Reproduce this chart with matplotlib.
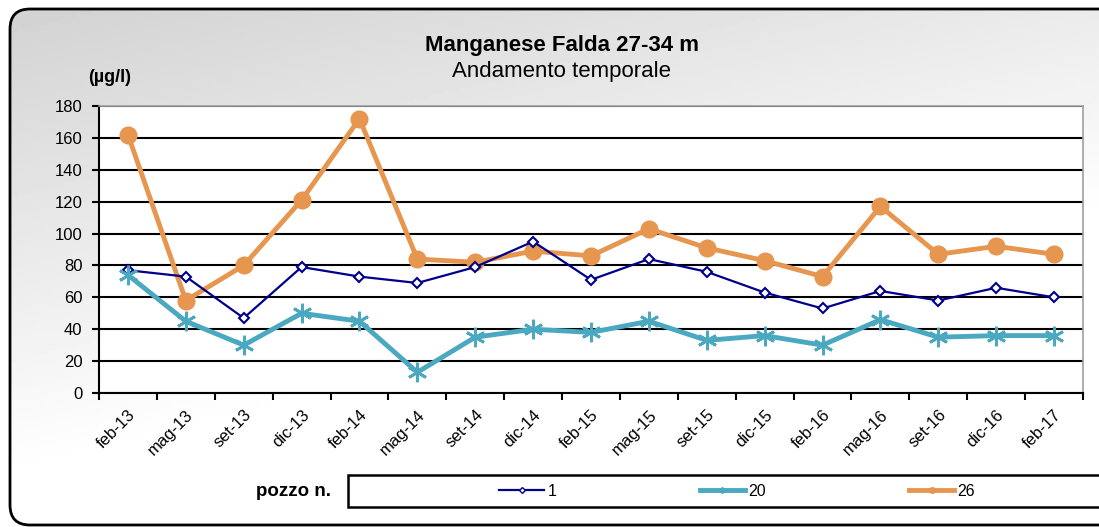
import numpy as np
import matplotlib.pyplot as plt
from matplotlib.patches import FancyBboxPatch, Rectangle
from matplotlib.lines import Line2D

plt.rcParams["font.family"] = ["Liberation Sans", "DejaVu Sans"]

# data
dates = ["feb-13", "mag-13", "set-13", "dic-13", "feb-14", "mag-14", "set-14", "dic-14",
         "feb-15", "mag-15", "set-15", "dic-15", "feb-16", "mag-16", "set-16", "dic-16", "feb-17"]
pozzo_1 = [77, 73, 47, 79, 73, 69, 79, 95, 71, 84, 76, 63, 53, 64, 58, 66, 60]
pozzo_20 = [74, 45, 30, 50, 45, 13, 35, 40, 38, 45, 33, 36, 30, 46, 35, 36, 36]
pozzo_26 = [162, 58, 80, 121, 172, 84, 82, 89, 86, 103, 91, 83, 73, 117, 87, 92, 87]
yticks = list(range(0, 181, 20))

W, H = 1099, 527
fig = plt.figure(figsize=(W / 100, H / 100), dpi=100)

# background panel with gray gradient and rounded border
bg = fig.add_axes([0, 0, 1, 1], zorder=-5)
bg.set_xlim(0, W)
bg.set_ylim(H, 0)
bg.axis("off")
xx, yy = np.meshgrid(np.linspace(0, 1, 300), np.linspace(0, 1, 150))
grad = 0.82 + 0.18 * np.clip(0.55 * xx + 1.1 * yy, 0, 1)
im = bg.imshow(grad, cmap="gray", vmin=0, vmax=1, extent=[0, W, H, 0], aspect="auto")
panel = FancyBboxPatch((10, 9), 1110, 516, boxstyle="round,pad=0,rounding_size=20",
                       fc="none", ec="black", lw=2)
bg.add_patch(panel)
im.set_clip_path(panel)

# main plot
x0, x1, y0, y1 = 99, 1083, 106, 393
ax = fig.add_axes([x0 / W, 1 - y1 / H, (x1 - x0) / W, (y1 - y0) / H])
x = np.arange(len(dates))
ax.plot(x, pozzo_26, color="#E6964F", lw=3.5, marker="o", ms=12, zorder=3, label="26")
ax.plot(x, pozzo_1, color="#00008B", lw=1.6, marker="D", ms=5.5, mfc="white",
        mew=1.5, zorder=4, label="1")
ax.plot(x, pozzo_20, color="#4AA8C0", lw=3.5, marker=(6, 2, 0), ms=14, mew=2, zorder=5,
        label="20")

ax.set_xlim(-0.5, len(dates) - 0.5)
ax.set_ylim(0, 180)
ax.set_yticks(yticks)
ax.set_xticks(x)
ax.set_xticklabels(dates, rotation=45, ha="right", va="top", rotation_mode="anchor",
                   fontsize=12)
ax.set_xticks(np.arange(len(dates) + 1) - 0.5, minor=True)
ax.tick_params(axis="x", which="major", length=0, pad=10)
ax.tick_params(axis="x", which="minor", length=5, width=1.5, direction="out")
ax.tick_params(axis="y", length=5, width=1.5, direction="out", labelsize=12, pad=7)
ax.yaxis.grid(True, color="black", lw=1.5)
ax.set_axisbelow(True)
for s in ["top", "right"]:
    ax.spines[s].set_color("#a0a0a0")
    ax.spines[s].set_linewidth(1.2)
for s in ["left", "bottom"]:
    ax.spines[s].set_linewidth(1.5)

# titles
fig.text(562 / W, 1 - 45 / H, "Manganese Falda 27-34 m", ha="center", va="center",
         fontsize=16, fontweight="bold")
fig.text(562 / W, 1 - 72 / H, "Andamento temporale", ha="center", va="center", fontsize=16)
fig.text(110 / W, 1 - 78 / H, "(µg/l)", ha="center", va="center", fontsize=13,
         fontweight="bold")

# legend box
bg.add_patch(Rectangle((348, 475), 800, 32, fc="white", ec="black", lw=1.8))
fig.text(331 / W, 1 - 491 / H, "pozzo n.", ha="right", va="center", fontsize=13.5,
         fontweight="bold")
handles = [Line2D([], [], color="#00008B", lw=1.6, marker="D", ms=3, mfc="white"),
           Line2D([], [], color="#4AA8C0", lw=3.5, marker=(6, 2, 0), ms=5),
           Line2D([], [], color="#E6964F", lw=3.5, marker="o", ms=4)]
fig.legend(handles, ["1", "20", "26"], ncol=3, frameon=False, fontsize=11.5,
           loc="center left", bbox_to_anchor=(485 / W, 1 - 491 / H),
           handlelength=2.8, handletextpad=0.2, columnspacing=9)

fig.savefig("out.png", dpi=100)
